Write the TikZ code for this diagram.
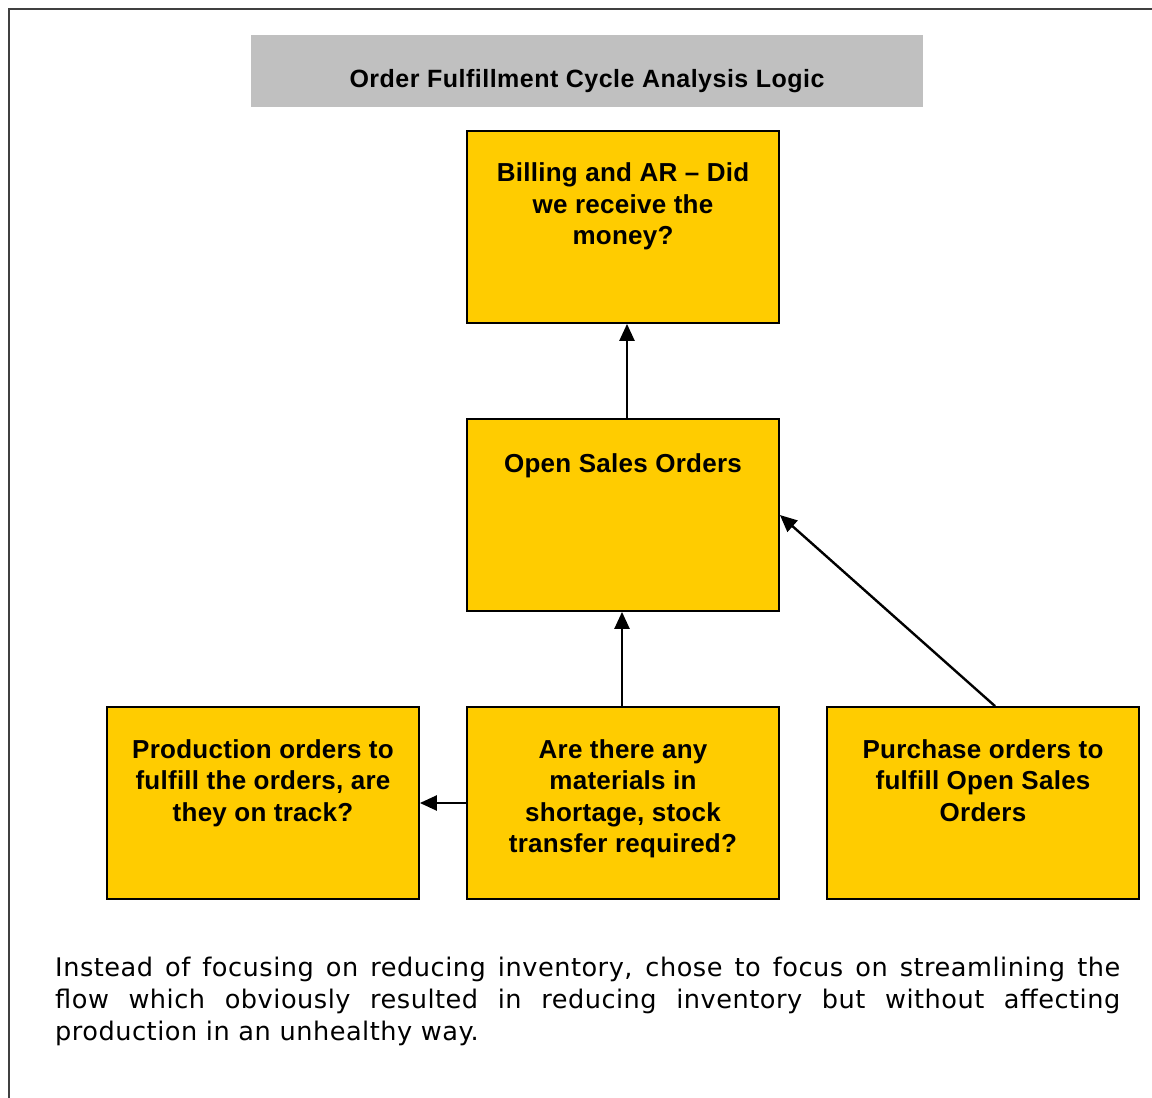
\documentclass[tikz,border=0pt]{standalone}
\usepackage{fontspec}
\setmainfont{Liberation Sans}
\newfontfamily\boxfont[LetterSpace=1]{Liberation Sans}
\newfontfamily\titlefont[LetterSpace=2]{Liberation Sans}
\newfontfamily\bodyfont[LetterSpace=2]{DejaVu Sans}
\usetikzlibrary{arrows.meta}
\definecolor{boxyellow}{HTML}{FFCC00}
\definecolor{titlegrey}{HTML}{C0C0C0}
\definecolor{framegrey}{HTML}{404040}
\tikzset{
  ybox/.style={draw=black, line width=1.8pt, fill=boxyellow, minimum width=312pt, minimum height=192pt, inner sep=0pt},
  boxtext/.style={anchor=north, align=center, inner sep=0pt, font=\boxfont\bfseries\fontsize{26}{31.5}\selectfont},
  conn/.style={line width=2.4pt, -{Triangle[length=17pt,width=15pt]}},
}
\begin{document}
\begin{tikzpicture}[x=1pt,y=-1pt]
\useasboundingbox (0,0) rectangle (1152,1098);
% outer frame (open at right and bottom)
\draw[framegrey, line width=2pt] (9,1098) -- (9,9) -- (1152,9);
% title
\node[fill=titlegrey, minimum width=672pt, minimum height=72pt, inner sep=0pt] (title) at (587,71) {};
\node[anchor=base, inner sep=0pt, font=\titlefont\bfseries\fontsize{25}{30}\selectfont] (titletext) at (587,87) {Order Fulfillment Cycle Analysis Logic};
% boxes
\node[ybox] (billing) at (623,227) {};
\node[ybox] (open) at (623,515) {};
\node[ybox] (prod) at (263,803) {};
\node[ybox] (mat) at (623,803) {};
\node[ybox] (purch) at (983,803) {};
% box texts
\node[boxtext] (billingtext) at ([yshift=-32.5pt]billing.north) {Billing and AR – Did\\we receive the\\money?};
\node[boxtext] (opentext) at ([yshift=-35pt]open.north) {Open Sales Orders};
\node[boxtext] (prodtext) at ([yshift=-33pt]prod.north) {Production orders to\\fulfill the orders, are\\they on track?};
\node[boxtext] (mattext) at ([yshift=-33pt]mat.north) {Are there any\\materials in\\shortage, stock\\transfer required?};
\node[boxtext] (purchtext) at ([yshift=-33pt]purch.north) {Purchase orders to\\fulfill Open Sales\\Orders};
% connectors
\draw[conn] ([xshift=4pt]open.north) -- ([xshift=4pt]billing.south);
\draw[conn] ([xshift=-1pt]mat.north) -- ([xshift=-1pt]open.south);
\draw[conn] (mat.west) -- (prod.east);
\draw[conn] ([xshift=12pt]purch.north) -- (open.east);
% body paragraph
\node[anchor=north west, inner sep=0pt, text width=1065pt, align=justify,
      font=\bodyfont\fontsize{25.6}{32}\selectfont] (body) at (55,956.5)
  {\hyphenpenalty=10000 Instead of focusing on reducing inventory, chose to focus on streamlining the\linebreak flow which obviously resulted in reducing inventory but without affecting\linebreak production in an unhealthy way.};
\end{tikzpicture}
\end{document}
